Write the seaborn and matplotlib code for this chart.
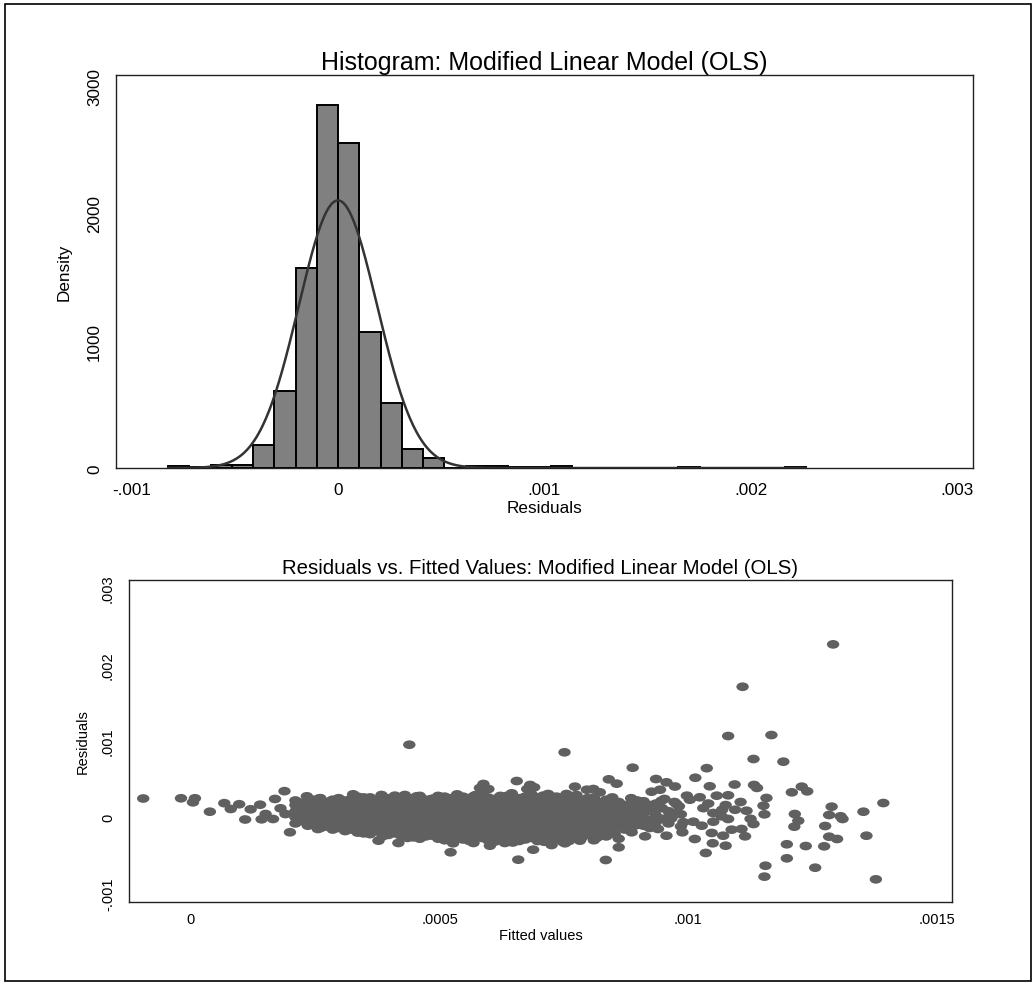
import numpy as np
import pandas as pd
import matplotlib
matplotlib.use("Agg")
import matplotlib.pyplot as plt
import seaborn as sns
from matplotlib.path import Path
from matplotlib.markers import MarkerStyle
from matplotlib.patches import Rectangle

# histogram of residuals: 30 equal bins starting at the smallest residual
bin_start = -0.000823
bin_width = 0.000103
bin_density = [19, 10, 27, 22, 180, 605, 1570, 2845, 2550, 1070,
               510, 152, 82, 0, 19, 19, 10, 10, 19, 0,
               0, 0, 0, 0, 10, 0, 0, 0, 0, 10]
resid_mean = 0.0
resid_sd = 0.00019

hist_xticks = [-0.001, 0, 0.001, 0.002, 0.003]
hist_xlabels = ["-.001", "0", ".001", ".002", ".003"]
hist_yticks = [0, 1000, 2000, 3000]

# residuals vs fitted (units of 1e-5)
sparse_pts = [
    (-9.6, 24.6), (-2.0, 24.9), (0.8, 24.9), (0.4, 19.6), (3.8, 7.3), (6.7, 18.5),
    (8.0, 10.9), (9.7, 17.1), (10.9, -2.9), (12.0, 10.5), (13.9, 16.5), (14.2, -2.6),
    (15.0, 4.3), (16.9, 24.0), (16.5, -2.2), (18.8, 34.2), (18.0, 11.8), (19.0, 4.3),
    (19.9, -19.6), (23.3, 27.5), (25.5, -15.3), (32.6, 30.1), (43.9, 95.0), (45.4, 27.5),
    (25.9, 24.9), (28.3, 21.7), (35.3, 24.0), (38.3, 29.2), (41.0, 28.3), (43.0, 29.2),
    (48.4, 24.0), (37.7, -30.6), (41.7, -33.6), (44.7, -26.2), (49.1, -24.1),
    (58.8, 43.6), (59.8, 37.0), (58.1, 38.4), (65.5, 47.5), (68.2, 42.3), (69.0, 39.3),
    (67.6, 37.0), (77.2, 40.1), (79.6, 36.1), (80.9, 37.0), (71.8, 30.5), (70.2, 26.2),
    (75.5, 30.5), (64.5, 31.4), (56.8, 27.5), (52.1, 24.9), (54.1, 24.0), (52.2, -45.8),
    (52.7, -34.0), (56.8, -33.6), (60.1, -37.2), (63.1, -33.6), (65.8, -55.5),
    (68.8, -42.4), (72.5, -36.3), (75.2, -34.0), (78.2, -30.6), (81.6, -26.7), (75.1, 85.1),
    (70.8, 28.3), (77.5, 29.2), (82.2, 32.7), (84.0, 49.7), (85.6, 44.0), (88.8, 64.9),
    (93.5, 50.1), (95.6, 45.8), (97.3, 40.3), (101.4, 51.8), (103.7, 64.3), (104.3, 40.6),
    (109.3, 42.9), (113.2, 42.3), (113.1, 76.3), (108.0, 106.4), (110.9, 170.9),
    (116.7, 107.7), (119.1, 72.8), (129.1, 226.4),
    (94.6, 21.7), (97.6, 17.4), (99.7, 28.3), (102.3, 26.2), (105.7, 28.3), (108.0, 28.8),
    (92.6, 33.5), (94.3, 36.1), (95.2, 24.0), (98.1, 14.4), (100.3, 23.0), (105.0, 5.6),
    (106.8, 9.9), (109.4, 9.9), (111.7, 8.6), (113.1, -8.8), (108.0, -2.2), (106.7, 1.3),
    (105.0, -5.8), (99.0, -6.5), (101.0, -5.8), (102.7, -11.0), (98.8, -19.6),
    (101.3, -28.4), (104.7, -20.5), (107.0, -24.1), (108.7, -16.2), (110.7, -15.3),
    (111.4, -24.9), (104.9, -34.0), (107.5, -37.2), (103.5, -46.7), (86.0, -39.3),
    (83.4, -55.9), (96.6, -1.3), (95.6, -24.1), (93.9, -15.3), (91.3, -24.9), (88.6, -19.6),
    (87.3, -8.8), (85.2, -21.9), (82.2, -24.1),
    (104.0, 18.0), (110.5, 20.0), (112.5, -2.0), (103.0, 12.0), (107.5, 16.0),
    (115.3, 3.9), (115.1, 15.2), (115.7, 25.3), (115.5, -63.4), (115.3, -77.7),
    (119.8, -53.7), (119.8, -35.3), (123.6, -37.6), (127.3, -38.0), (125.5, -66.0),
    (137.7, -81.2), (128.3, -25.4), (129.9, -28.4), (135.8, -24.1), (113.8, 38.5),
    (120.8, 32.7), (122.8, 40.1), (123.9, 34.0), (121.4, 4.3), (122.1, -4.5),
    (121.3, -12.3), (128.8, 13.9), (128.3, 3.0), (130.6, 1.3), (131.0, -2.2),
    (127.5, -11.4), (135.2, 7.3), (139.2, 18.7),
]

# dense core of the cloud, column by column (fitted, [residuals])
core_cols = [
    (21.0, [-8, 0, 8, 16, 22]),
    (23.5, [-11, -3, 5, 13, 21]),
    (26.0, [-14, -6, 2, 10, 18, 25]),
    (28.5, [-16, -8, 0, 8, 16, 23]),
    (31.0, [-18, -10, -2, 6, 14, 22]),
    (33.5, [-20, -12, -4, 4, 12, 20, 27]),
    (36.0, [-22, -14, -6, 2, 10, 18, 26]),
    (38.5, [-25, -17, -9, -1, 7, 15, 23]),
    (41.0, [-21, -13, -5, 3, 11, 19, 27]),
    (43.5, [-27, -19, -11, -3, 5, 13, 21]),
    (46.0, [-28, -20, -12, -4, 4, 12, 20, 28]),
    (48.5, [-24, -16, -8, 0, 8, 16, 24]),
    (51.0, [-30, -22, -14, -6, 2, 10, 18, 27]),
    (53.5, [-26, -18, -10, -2, 6, 14, 22, 30]),
    (56.0, [-31, -23, -15, -7, 1, 9, 17, 25]),
    (58.5, [-27, -19, -11, -3, 5, 13, 21, 29]),
    (61.0, [-32, -24, -16, -8, 0, 8, 16, 24]),
    (63.5, [-28, -20, -12, -4, 4, 12, 20, 28]),
    (66.0, [-31, -23, -15, -7, 1, 9, 17, 25]),
    (68.5, [-27, -19, -11, -3, 5, 13, 21, 30]),
    (71.0, [-32, -24, -16, -8, 0, 8, 16, 24]),
    (73.5, [-28, -20, -12, -4, 4, 12, 20, 27]),
    (76.0, [-31, -23, -15, -7, 1, 9, 17, 25]),
    (78.5, [-27, -19, -11, -3, 5, 13, 21]),
    (81.0, [-30, -22, -14, -6, 2, 10, 18, 26]),
    (83.5, [-25, -17, -9, -1, 7, 15, 23]),
    (86.0, [-28, -12, -4, 4, 12, 20]),
    (88.5, [-15, -7, 1, 9, 17, 25]),
    (91.0, [-11, -3, 5, 13, 21]),
    (93.5, [-6, 2, 10, 18]),
    (96.0, [-8, 0, 8]),
    (98.5, [-12, 4]),
]

# the points in between the columns above
core_cols_b = [
    (22.2, [-5, 3, 11, 19]),
    (24.7, [-8, 0, 8, 16, 23]),
    (27.2, [-12, -4, 4, 12, 20]),
    (29.7, [-14, -6, 2, 10, 18, 25]),
    (32.2, [-16, -8, 0, 8, 16, 24]),
    (34.7, [-21, -13, -5, 3, 11, 19, 26]),
    (37.2, [-18, -10, -2, 6, 14, 22]),
    (39.7, [-23, -15, -7, 1, 9, 17, 25]),
    (42.2, [-24, -16, -8, 0, 8, 16, 24]),
    (44.7, [-22, -14, -6, 2, 10, 18, 25]),
    (47.2, [-25, -17, -9, -1, 7, 15, 23]),
    (49.7, [-28, -20, -12, -4, 4, 12, 20, 28]),
    (52.2, [-26, -18, -10, -2, 6, 14, 22]),
    (54.7, [-29, -21, -13, -5, 3, 11, 19, 27]),
    (57.2, [-27, -19, -11, -3, 5, 13, 21, 29]),
    (59.7, [-30, -22, -14, -6, 2, 10, 18, 26]),
    (62.2, [-28, -20, -12, -4, 4, 12, 20, 28]),
    (64.7, [-33, -24, -16, -8, 0, 8, 16, 24]),
    (67.2, [-29, -21, -13, -5, 3, 11, 19, 27]),
    (69.7, [-31, -23, -15, -7, 1, 9, 17, 25]),
    (72.2, [-28, -20, -12, -4, 4, 12, 20, 28]),
    (74.7, [-32, -24, -16, -8, 0, 8, 16, 23]),
    (77.2, [-27, -19, -11, -3, 5, 13, 21]),
    (79.7, [-23, -15, -7, 1, 9, 17, 25]),
    (82.2, [-20, -12, -4, 4, 12, 20]),
    (84.7, [-21, -13, -5, 3, 11, 19, 26]),
    (87.2, [-16, -8, 0, 8, 16]),
    (89.7, [-10, -2, 6, 14, 22]),
    (92.2, [-14, -4, 8, 16]),
    (94.7, [-2, 12]),
    (97.2, [5, 20]),
]

fit_vals = [p[0] for p in sparse_pts]
res_vals = [p[1] for p in sparse_pts]
for fx, col in core_cols + core_cols_b:
    fit_vals += [fx] * len(col)
    res_vals += col
scatter_df = pd.DataFrame({"fitted": np.array(fit_vals) * 1e-5,
                           "resid": np.array(res_vals) * 1e-5})

sct_xticks = [0, 0.0005, 0.001, 0.0015]
sct_xlabels = ["0", ".0005", ".001", ".0015"]
sct_yticks = [-0.001, 0, 0.001, 0.002, 0.003]
sct_ylabels = ["-.001", "0", ".001", ".002", ".003"]

sns.set_style("white")
plt.rcParams["font.family"] = ["Liberation Sans", "DejaVu Sans"]
plt.rcParams.update({"text.color": "black", "axes.labelcolor": "black",
                     "xtick.color": "black", "ytick.color": "black"})

fig = plt.figure(figsize=(10.36, 9.87), dpi=100)
fig.patches.append(Rectangle((0.0048, 0.0051), 0.9904, 0.9898, transform=fig.transFigure,
                             fill=False, edgecolor="black", linewidth=1.2))

# ---- top: histogram with normal density ----
ax1 = fig.add_axes([0.112, 0.5248, 0.827, 0.3982])
edges = [bin_start + bin_width * i for i in range(len(bin_density) + 1)]
hist_df = pd.DataFrame({"center": [(edges[i] + edges[i + 1]) / 2 for i in range(len(bin_density))],
                        "density": bin_density})
sns.histplot(data=hist_df, x="center", weights="density", bins=edges, stat="count",
             color="#808080", edgecolor="black", linewidth=1.4, alpha=1, ax=ax1)
xs = np.linspace(edges[0], edges[-1], 600)
pdf = np.exp(-0.5 * ((xs - resid_mean) / resid_sd) ** 2) / (resid_sd * np.sqrt(2 * np.pi))
sns.lineplot(x=xs, y=pdf, color="#333333", linewidth=1.8, ax=ax1)
ax1.set_xlim(-0.001075, 0.003075)
ax1.set_ylim(0, 3084)
ax1.set_xticks(hist_xticks)
ax1.set_xticklabels(hist_xlabels)
ax1.set_yticks(hist_yticks)
ax1.set_yticklabels([str(v) for v in hist_yticks], rotation=90, va="center")
ax1.tick_params(axis="both", labelsize=12.3, direction="out", color="black", width=1)
ax1.tick_params(axis="x", length=5, pad=5)
ax1.tick_params(axis="y", length=7, pad=3)
ax1.set_xlabel("Residuals", fontsize=12.3, labelpad=2.5)
ax1.set_ylabel("Density", fontsize=12.3, labelpad=11)
ax1.set_title("Histogram: Modified Linear Model (OLS)", fontsize=18, pad=4)

# ---- bottom: residuals vs fitted ----
ax2 = fig.add_axes([0.1245, 0.0851, 0.7944, 0.3262])
ell = Path.unit_circle()
ell = Path(ell.vertices * np.array([1.0, 0.7]), ell.codes)
sns.scatterplot(data=scatter_df, x="fitted", y="resid", marker=MarkerStyle(ell), s=80,
                color="#606060", edgecolor="none", linewidth=0, ax=ax2)
ax2.set_xlim(-0.0001246, 0.00153)
ax2.set_ylim(-0.001109, 0.003106)
ax2.set_xticks(sct_xticks)
ax2.set_xticklabels(sct_xlabels)
ax2.set_yticks(sct_yticks)
ax2.set_yticklabels(sct_ylabels, rotation=90, va="center")
ax2.tick_params(axis="both", labelsize=10.5, direction="out", color="black", width=1)
ax2.tick_params(axis="x", length=4.5, pad=3)
ax2.tick_params(axis="y", length=7, pad=3)
ax2.set_xlabel("Fitted values", fontsize=10.5, labelpad=1)
ax2.set_ylabel("Residuals", fontsize=10.5, labelpad=8)
ax2.set_title("Residuals vs. Fitted Values: Modified Linear Model (OLS)", fontsize=14.7, pad=5)

for ax in (ax1, ax2):
    for sp in ax.spines.values():
        sp.set_visible(True)
        sp.set_color("#222222")
        sp.set_linewidth(1)

fig.savefig("out.png", dpi=100, facecolor="white")
